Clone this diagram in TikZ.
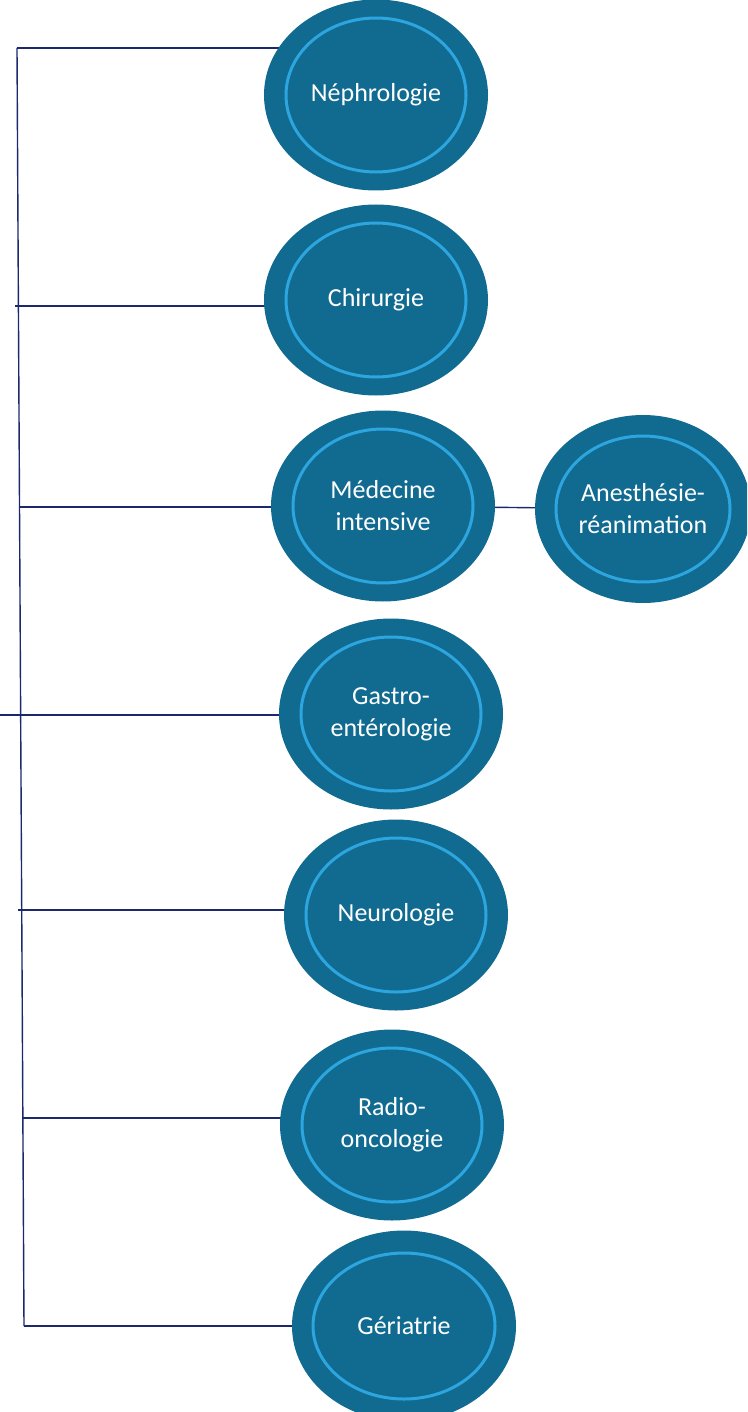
\documentclass[tikz,border=0pt]{standalone}
\usepackage{fontspec}
\setmainfont{Carlito}
\usetikzlibrary{shapes.geometric,backgrounds}
\definecolor{bubblefill}{RGB}{17,107,145}
\definecolor{ringblue}{RGB}{45,165,222}
\definecolor{linknavy}{RGB}{28,40,110}
\tikzset{
  bubble/.style={ellipse, fill=bubblefill, minimum width=224pt, minimum height=191pt,
    inner sep=0pt, text=white, font=\fontsize{26}{32}\selectfont, align=center},
  ring/.style={draw=ringblue, line width=3pt},
  link/.style={draw=linknavy, line width=1.4pt},
}
\begin{document}
\begin{tikzpicture}[x=1pt,y=-1pt]
\useasboundingbox (0,0) rectangle (747,1412);
\clip (0,0) rectangle (747,1412);

% specialty bubbles
\node[bubble] (n1) at (376,95)   {Néphrologie};
\node[bubble] (n2) at (376,300)  {Chirurgie};
\node[bubble] (n3) at (383,506)  {Médecine\\intensive};
\node[bubble, minimum width=216pt, minimum height=188pt] (n4) at (643,509) {Anesthésie-\\réanimation};
\node[bubble] (n5) at (391,714)  {Gastro-\\entérologie};
\node[bubble] (n6) at (396,915)  {Neurologie};
\node[bubble] (n7) at (392,1125) {Radio-\\oncologie};
\node[bubble] (n8) at (404,1326) {Gériatrie};

% inner rings
\foreach \n in {n1,n2,n3,n5,n6,n7}
  \draw[ring] (\n.center) ellipse [x radius=90pt, y radius=77pt];
\draw[ring] (n8.center) ellipse [x radius=91pt, y radius=73pt];
\draw[ring] (n4.center) ellipse [x radius=87pt, y radius=73pt];

% spine and branches
\coordinate (a1) at (17,48);
\coordinate (a2) at (15,306);
\coordinate (a3) at (20,507);
\coordinate (a4) at (0,715);
\coordinate (a5) at (18,910);
\coordinate (a6) at (22,1118);
\coordinate (a7) at (24,1326);
\coordinate (top) at (17,48);
\coordinate (bot) at (24,1326);

\begin{scope}[on background layer]
  \draw[link] (top) -- (bot);
  \draw[link] (a1) -- (a1 -| n1.center);
  \draw[link] (a2) -- (a2 -| n2.center);
  \draw[link] (a3) -- (a3 -| n3.center);
  \draw[link] (a4) -- (a4 -| n5.center);
  \draw[link] (a5) -- (a5 -| n6.center);
  \draw[link] (a6) -- (a6 -| n7.center);
  \draw[link] (a7) -- (a7 -| n8.center);
  \draw[link] (n3.center) -- (n4.center);
\end{scope}
\end{tikzpicture}
\end{document}
